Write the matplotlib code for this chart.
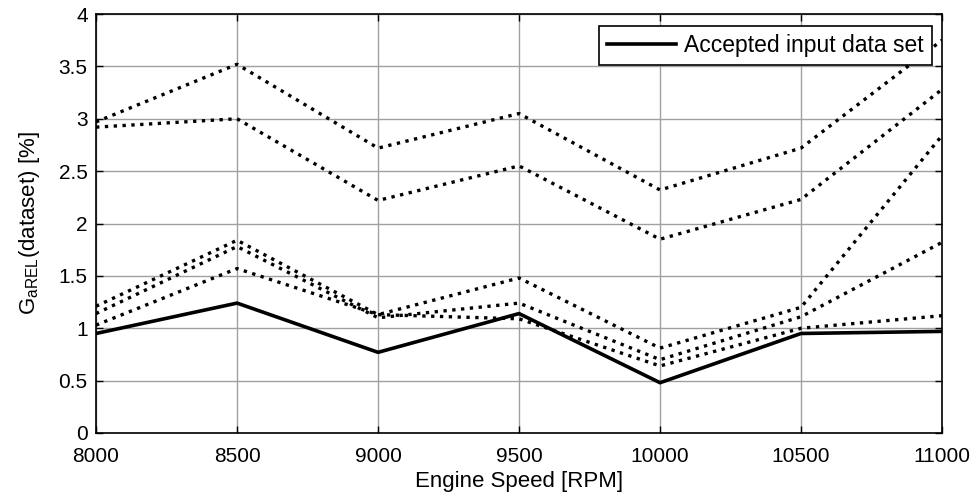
import matplotlib
matplotlib.use("Agg")
import matplotlib.pyplot as plt

plt.rcParams['font.family'] = ['Liberation Sans', 'DejaVu Sans']
plt.rcParams['mathtext.fontset'] = 'custom'
plt.rcParams['mathtext.rm'] = 'Liberation Sans'
plt.rcParams['mathtext.it'] = 'Liberation Sans:italic'

speed = [8000, 8500, 9000, 9500, 10000, 10500, 11000]

accepted = [0.95, 1.24, 0.77, 1.14, 0.48, 0.95, 0.97]

rejected = [
    [2.97, 3.52, 2.72, 3.05, 2.32, 2.72, 3.75],
    [2.92, 3.00, 2.22, 2.55, 1.85, 2.23, 3.28],
    [1.21, 1.84, 1.13, 1.48, 0.81, 1.20, 2.84],
    [1.14, 1.78, 1.10, 1.24, 0.70, 1.11, 1.82],
    [1.03, 1.57, 1.13, 1.09, 0.64, 1.00, 1.12],
]

fig = plt.figure(figsize=(9.76, 4.97), dpi=100)
ax = fig.add_axes([0.0984, 0.1288, 0.8668, 0.843])

for ys in rejected:
    ax.plot(speed, ys, color='black', linestyle=':', linewidth=2.4)
ax.plot(speed, accepted, color='black', linestyle='-', linewidth=2.6,
        label='Accepted input data set')

ax.set_xlim(8000, 11000)
ax.set_ylim(0, 4)
ax.set_xticks(speed)
ax.set_yticks([0, 0.5, 1, 1.5, 2, 2.5, 3, 3.5, 4])
ax.set_yticklabels(['0', '0.5', '1', '1.5', '2', '2.5', '3', '3.5', '4'])
ax.tick_params(direction='in', top=True, right=True, labelsize=15, length=5, width=1)
ax.tick_params(axis='x', pad=10)
ax.tick_params(axis='y', pad=6)
ax.grid(True, color='#a0a0a0', linewidth=1)
for s in ax.spines.values():
    s.set_linewidth(1.2)

ax.set_xlabel('Engine Speed [RPM]', fontsize=16, labelpad=4)
ax.set_ylabel(r'G$_{\mathrm{aREL}}$(dataset) [%]', fontsize=16, labelpad=12)

leg = ax.legend(loc='upper right', fontsize=16.5, fancybox=False, framealpha=1,
                edgecolor='black', handlelength=3.0, handletextpad=0.35,
                borderpad=0.35, borderaxespad=0,
                bbox_to_anchor=(0.988, 0.971))
leg.get_frame().set_linewidth(1.2)

fig.savefig('out.png', dpi=100)
